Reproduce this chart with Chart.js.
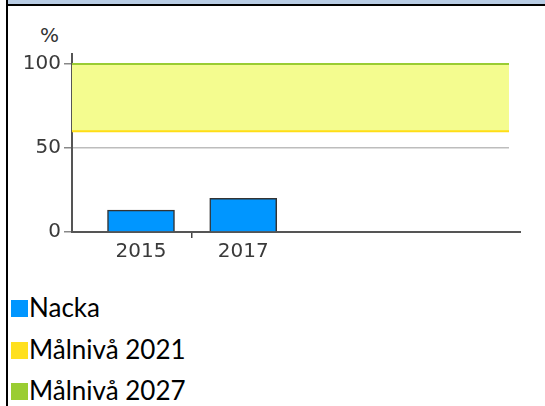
<!DOCTYPE html>
<html>
<head>
<meta charset="utf-8">
<script src="https://cdn.jsdelivr.net/npm/chart.js@4"></script>
<style>
  html, body { margin: 0; padding: 0; background: #fff; }
  body { width: 545px; height: 406px; position: relative; overflow: hidden; }
  .topbar { position: absolute; left: 8px; top: 0; width: 537px; height: 4px; background: #b8cce4; }
  .topline { position: absolute; left: 6px; top: 4px; width: 539px; height: 2px; background: #000; }
  .leftline { position: absolute; left: 6px; top: 0; width: 2px; height: 406px; background: #000; }
  .unit { position: absolute; left: 40px; top: 23px; font: 20px "DejaVu Sans", sans-serif; color: #333; }
  .chart-box { position: absolute; left: 0; top: 0; width: 545px; height: 270px; }
  .legend { position: absolute; left: 11px; top: 287px; font: 26px Lato, sans-serif; color: #000; }
  .legend-item { height: 41.5px; line-height: 41.5px; white-space: nowrap; }
  .legend-swatch { display: inline-block; width: 17px; height: 17px; margin-right: 1px; vertical-align: baseline; }
</style>
</head>
<body>
<div class="topbar"></div>
<div class="topline"></div>
<div class="leftline"></div>
<div class="unit">%</div>
<div class="chart-box"><canvas id="chart"></canvas></div>
<div class="legend" id="legend"></div>
<script>
(function () {
  "use strict";

  const YEARS = [2015, 2017];
  const NACKA = [13, 20];
  const TARGET_2021 = 60;
  const TARGET_2027 = 100;
  const Y_TICKS = [0, 50, 100];
  const SERIES_LABELS = ["Nacka", "Målnivå 2021", "Målnivå 2027"];
  const COLORS = ["#0096ff", "#ffe01f", "#9acd32"];

  const X_MIN = 2013.65;
  const X_MAX = 2022.2;

  function yearLine(value) {
    return [{ x: X_MIN, y: value }, { x: X_MAX, y: value }];
  }

  // the axes run a bit past the plot, like the original
  const axisStubs = {
    id: "axisStubs",
    beforeDatasetsDraw(chart) {
      const { ctx, chartArea } = chart;
      ctx.save();
      ctx.strokeStyle = "#555";
      ctx.lineWidth = 2;
      ctx.beginPath();
      ctx.moveTo(chartArea.left, chartArea.top);
      ctx.lineTo(chartArea.left, chartArea.bottom);
      ctx.lineTo(chartArea.right + 12, chartArea.bottom);
      ctx.stroke();
      ctx.restore();
    },
  };

  function init() {
    const canvas = document.getElementById("chart");

    new Chart(canvas, {
      data: {
        datasets: [
          {
            type: "bar",
            label: SERIES_LABELS[0],
            data: YEARS.map((year, i) => ({ x: year, y: NACKA[i] })),
            backgroundColor: COLORS[0],
            borderColor: "#333",
            borderWidth: 1.5,
            borderSkipped: "start",
            barThickness: 67,
            order: 0,
          },
          {
            type: "line",
            label: SERIES_LABELS[1],
            data: yearLine(TARGET_2021),
            borderColor: "#ffde17",
            borderWidth: 2,
            pointRadius: 0,
            fill: false,
            order: 1,
          },
          {
            type: "line",
            label: SERIES_LABELS[2],
            data: yearLine(TARGET_2027),
            borderColor: "#99cc33",
            backgroundColor: "#f4fc8f",
            borderWidth: 2,
            pointRadius: 0,
            fill: { target: 1 },
            order: 2,
          },
        ],
      },
      options: {
        responsive: true,
        maintainAspectRatio: false,
        animation: false,
        layout: { padding: { top: 54, right: 36, left: 0, bottom: 0 } },
        plugins: {
          legend: { display: false },
          tooltip: { enabled: false },
        },
        scales: {
          x: {
            type: "linear",
            min: X_MIN,
            max: X_MAX,
            offset: false,
            afterBuildTicks(scale) {
              const mid = (YEARS[0] + YEARS[1]) / 2;
              scale.ticks = YEARS.concat([mid]).sort().map((v) => ({ value: v }));
            },
            afterFit(scale) { scale.height = 38; },
            grid: {
              offset: false,
              drawOnChartArea: false,
              drawTicks: true,
              tickLength: 6,
              color(ctx) {
                return ctx.tick && YEARS.includes(ctx.tick.value) ? "rgba(0,0,0,0)" : "#444";
              },
              lineWidth: 1.5,
            },
            border: { color: "#555", width: 2 },
            ticks: {
              color: "#3a3a3a",
              font: { family: "DejaVu Sans", size: 20 },
              padding: 2,
              maxRotation: 0,
              autoSkip: false,
              callback(value) {
                return YEARS.includes(value) ? String(value) : "";
              },
            },
          },
          y: {
            min: 0,
            max: 106,
            afterBuildTicks(scale) {
              scale.ticks = Y_TICKS.map((v) => ({ value: v }));
            },
            afterFit(scale) { scale.width = 72; },
            grid: {
              color: "#bdbdbd",
              lineWidth: 1.5,
              tickLength: 8,
              tickColor: "#888",
            },
            border: { color: "#555", width: 2 },
            ticks: {
              color: "#3a3a3a",
              font: { family: "DejaVu Sans", size: 20 },
              padding: 3,
            },
          },
        },
      },
      plugins: [axisStubs],
    });

    const legend = document.getElementById("legend");
    SERIES_LABELS.forEach((label, i) => {
      const item = document.createElement("div");
      item.className = "legend-item";
      const swatch = document.createElement("span");
      swatch.className = "legend-swatch";
      swatch.style.background = COLORS[i];
      const text = document.createElement("span");
      text.textContent = label;
      item.appendChild(swatch);
      item.appendChild(text);
      legend.appendChild(item);
    });
  }

  if (document.readyState === "loading") {
    document.addEventListener("DOMContentLoaded", init);
  } else {
    init();
  }
})();
</script>
</body>
</html>
